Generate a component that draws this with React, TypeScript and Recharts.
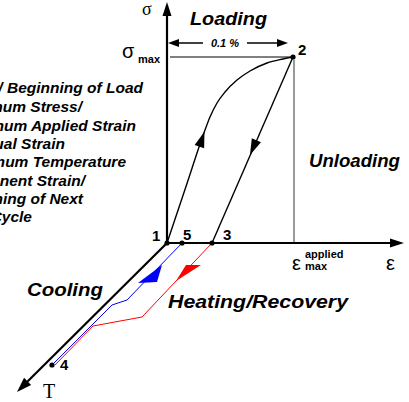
import React from "react";
import { ComposedChart, Line, Scatter, XAxis, YAxis } from "recharts";

// diagram units (about 1px each): origin at point 1, strain to the right, stress up, T down-left
const sigmaAxis = [{ x: 0, y: 0 }, { x: 0, y: 230 }];
const strainAxis = [{ x: 0, y: 0 }, { x: 225, y: 0 }];
const tempAxis = [{ x: 0, y: 0 }, { x: -140, y: -139 }];
const sigmaMaxLine = [{ x: 3, y: 186 }, { x: 126, y: 186 }];
const appliedStrainLine = [{ x: 127, y: 183 }, { x: 127, y: 0 }];
const spanLeft = [{ x: 4, y: 200 }, { x: 36, y: 200 }];
const spanRight = [{ x: 80, y: 200 }, { x: 118, y: 200 }];

const loading = [
  { x: 0, y: 0 },
  { x: 19, y: 56.5 },
  { x: 38, y: 113 },
  { x: 43, y: 126 },
  { x: 50, y: 140 },
  { x: 58, y: 151 },
  { x: 70, y: 163 },
  { x: 83, y: 172 },
  { x: 100, y: 180 },
  { x: 116, y: 184 },
  { x: 126, y: 186 },
];
const unloading = [{ x: 126, y: 186 }, { x: 45, y: 0 }];
const cooling = [
  { x: -113, y: -120 },
  { x: -55, y: -62 },
  { x: -40, y: -57 },
  { x: 15, y: 0 },
];
const heating = [
  { x: -112, y: -122 },
  { x: -74, y: -83 },
  { x: -25, y: -74 },
  { x: 45, y: 0 },
];

const statePoints = [
  { x: 0, y: 0 },
  { x: 126, y: 186 },
  { x: 45, y: 0 },
  { x: -115, y: -122 },
  { x: 15, y: 0 },
];

const arrowTips = [
  { x: 0, y: 241, kind: "axisUp" },
  { x: 237, y: 0, kind: "axisRight" },
  { x: -150, y: -149, kind: "axisT" },
  { x: 1, y: 200, kind: "spanL" },
  { x: 121, y: 200, kind: "spanR" },
  { x: 37.5, y: 111.5, kind: "up" },
  { x: 83, y: 88, kind: "down" },
  { x: -5, y: -22, kind: "blue" },
  { x: 9, y: -38, kind: "red" },
];

const labels = [
  { x: -25, y: 228, text: "σ", kind: "serif" },
  { x: 23, y: 218, text: "Loading", kind: "big", len: 77 },
  { x: 58, y: 196.5, text: "0.1 %", kind: "small" },
  { x: -45, y: 185, text: "σ", kind: "sym" },
  { x: -29, y: 180, text: "max", kind: "sub" },
  { x: 131, y: 188, text: "2", kind: "num" },
  { x: 142, y: 76, text: "Unloading", kind: "big", len: 91 },
  { x: -15, y: 2, text: "1", kind: "num" },
  { x: 16, y: 3, text: "5", kind: "num" },
  { x: 56, y: 3, text: "3", kind: "num" },
  { x: 125, y: -27, text: "ε", kind: "sym" },
  { x: 138, y: -15, text: "applied", kind: "sub" },
  { x: 138, y: -27, text: "max", kind: "sub" },
  { x: 219, y: -27, text: "ε", kind: "sym" },
  { x: -140, y: -53, text: "Cooling", kind: "big", len: 76 },
  { x: 1, y: -65, text: "Heating/Recovery", kind: "big", len: 180 },
  { x: -107, y: -127, text: "4", kind: "num" },
  { x: -124, y: -155, text: "T", kind: "serifT" },
];

const legendLines = [
  { x: -24, y: 150, text: "1 – Initial/ Beginning of Load" },
  { x: -85, y: 131, text: "2 – Maximum Stress/" },
  { x: -31, y: 112, text: "Maximum Applied Strain" },
  { x: -102, y: 94, text: "3 – Residual Strain" },
  { x: -41, y: 76, text: "4 – Maximum Temperature" },
  { x: -82, y: 57, text: "5 – Permanent Strain/" },
  { x: -84, y: 39, text: "Beginning of Next" },
  { x: -135, y: 21, text: "Cycle" },
];

const SANS = "'Liberation Sans', Arial, sans-serif";
const SERIF = "'Liberation Serif', 'Times New Roman', serif";

const textStyles: Record<string, any> = {
  big: { fontFamily: SANS, fontSize: 19, fontWeight: 700, fontStyle: "italic" },
  small: { fontFamily: SANS, fontSize: 11, fontWeight: 700, fontStyle: "italic", textAnchor: "middle" },
  num: { fontFamily: SANS, fontSize: 15, fontWeight: 700 },
  sym: { fontFamily: SANS, fontSize: 20 },
  sub: { fontFamily: SANS, fontSize: 11, fontWeight: 700 },
  serif: { fontFamily: SERIF, fontSize: 18 },
  serifT: { fontFamily: SERIF, fontSize: 20 },
};

const tri = (dx: number, dy: number, len: number, w: number) => {
  const n = Math.hypot(dx, dy);
  const ux = dx / n;
  const uy = dy / n;
  const bx = -ux * len;
  const by = -uy * len;
  return [
    [0, 0],
    [bx - uy * w, by + ux * w],
    [bx + uy * w, by - ux * w],
  ];
};

const arrowShapes: Record<string, { pts: number[][]; fill: string }> = {
  axisUp: { pts: tri(0, -1, 14, 4.5), fill: "#000" },
  axisRight: { pts: tri(1, 0, 14, 4.5), fill: "#000" },
  axisT: { pts: tri(-1, 1, 15, 5), fill: "#000" },
  spanL: { pts: tri(-1, 0, 11, 4), fill: "#000" },
  spanR: { pts: tri(1, 0, 11, 4), fill: "#000" },
  up: { pts: tri(38, -113, 16, 5), fill: "#000" },
  down: { pts: tri(-81, 186, 16, 5), fill: "#000" },
  blue: { pts: [[0, 0], [-24, 18], [-5, 17]], fill: "#0000ff" },
  red: { pts: [[0, 0], [10, -16], [25, -16]], fill: "#ff0000" },
};

const ArrowHead = (props: any) => {
  const p = props.payload ?? props;
  const s = arrowShapes[p.kind];
  if (!s) return null;
  const pts = s.pts.map(([a, b]) => `${props.cx + a},${props.cy + b}`).join(" ");
  return <polygon points={pts} fill={s.fill} stroke="none" />;
};

const Dot = (props: any) => <circle cx={props.cx} cy={props.cy} r={2.6} fill="#000" />;

const Label = (props: any) => {
  const p = props.payload ?? props;
  const st = textStyles[p.kind] || {};
  const extra = p.len ? { textLength: p.len, lengthAdjust: "spacingAndGlyphs" } : {};
  return (
    <text x={props.cx} y={props.cy} fill="#000" {...st} {...extra}>
      {p.text}
    </text>
  );
};

const LegendText = (props: any) => {
  const p = props.payload ?? props;
  return (
    <text
      x={props.cx}
      y={props.cy}
      fill="#000"
      textAnchor="end"
      fontFamily={SANS}
      fontSize={15.5}
      fontWeight={700}
      fontStyle="italic"
    >
      {p.text}
    </text>
  );
};

const seg = (key: string, data: any[], stroke: string, width: number, type: any = "linear") => (
  <Line
    key={key}
    data={data}
    dataKey="y"
    type={type}
    stroke={stroke}
    strokeWidth={width}
    dot={false}
    activeDot={false}
    isAnimationActive={false}
  />
);

export default function App() {
  return (
    <div style={{ position: "absolute", left: 0, top: 0, background: "#fff" }}>
      <ComposedChart width={409} height={402} margin={{ top: 0, right: 0, bottom: 0, left: 0 }}>
        <XAxis type="number" dataKey="x" domain={[-167, 242]} allowDataOverflow hide />
        <YAxis type="number" dataKey="y" domain={[-159, 243]} allowDataOverflow hide />
        {seg("sigmaMax", sigmaMaxLine, "#000", 1)}
        {seg("applied", appliedStrainLine, "#9a9a9a", 2)}
        {seg("spanL", spanLeft, "#000", 1.5)}
        {seg("spanR", spanRight, "#000", 1.5)}
        {seg("cooling", cooling, "#0000ff", 1)}
        {seg("heating", heating, "#ff0000", 1)}
        {seg("sigmaAxis", sigmaAxis, "#000", 2.2)}
        {seg("strainAxis", strainAxis, "#000", 2.2)}
        {seg("tempAxis", tempAxis, "#000", 2.2)}
        {seg("loading", loading, "#000", 1.4, "monotone")}
        {seg("unloading", unloading, "#000", 1.4)}
        <Scatter data={arrowTips} shape={ArrowHead} isAnimationActive={false} />
        <Scatter data={statePoints} shape={Dot} isAnimationActive={false} />
        <Scatter data={labels} shape={Label} isAnimationActive={false} />
        <Scatter data={legendLines} shape={LegendText} isAnimationActive={false} />
      </ComposedChart>
    </div>
  );
}
